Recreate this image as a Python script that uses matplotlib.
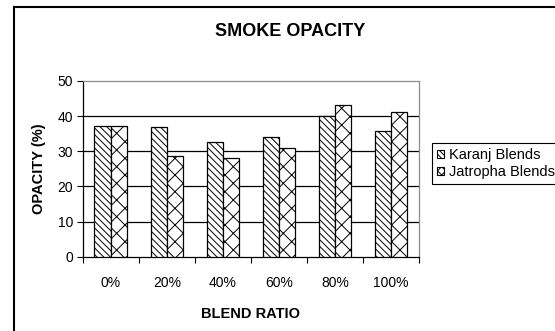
import numpy as np
import matplotlib
matplotlib.use('Agg')
import matplotlib.pyplot as plt
from matplotlib.lines import Line2D
from matplotlib.patches import Patch

plt.rcParams['font.family'] = ['Liberation Sans', 'DejaVu Sans']
plt.rcParams['hatch.linewidth'] = 0.7

# Smoke opacity data
blends = ['0%', '20%', '40%', '60%', '80%', '100%']
karanj = [37.3, 37.0, 32.6, 34.0, 40.0, 35.8]
jatropha = [37.3, 28.7, 28.0, 31.0, 43.2, 41.1]

fig = plt.figure(figsize=(5.55, 3.31), dpi=100)
ax = fig.add_axes([0.149, 0.2245, 0.606, 0.5308])

x = np.arange(len(blends))
w = 0.29
ax.bar(x - w / 2, karanj, w, color='white', edgecolor='black', linewidth=0.9,
       hatch='\\\\\\\\\\', label='Karanj Blends', zorder=3)
ax.bar(x + w / 2, jatropha, w, color='white', edgecolor='black', linewidth=0.9,
       hatch='xx', label='Jatropha Blends', zorder=3)

ax.set_xlim(-0.5, len(blends) - 0.5)
ax.set_ylim(0, 50)
ax.set_yticks([0, 10, 20, 30, 40, 50])
ax.set_xticks(x)
ax.set_xticklabels(blends)
ax.set_xticks(np.arange(len(blends) + 1) - 0.5, minor=True)
ax.tick_params(axis='x', which='major', length=0, pad=14, labelsize=10)
ax.tick_params(axis='x', which='minor', length=4, width=0.8, direction='out')
ax.tick_params(axis='y', length=4, width=0.8, labelsize=10, pad=3)

for yv in [10, 20, 30, 40]:
    ax.axhline(yv, color='black', linewidth=0.9, zorder=1)

for s in ['top', 'right']:
    ax.spines[s].set_color('#8c8c8c')
    ax.spines[s].set_linewidth(0.9)
for s in ['left', 'bottom']:
    ax.spines[s].set_color('black')
    ax.spines[s].set_linewidth(0.9)

ax.set_xlabel('BLEND RATIO', fontsize=10.5, fontweight='bold', labelpad=12)
ax.set_ylabel('OPACITY (%)', fontsize=10.5, fontweight='bold', labelpad=8)

fig.text(0.522, 0.906, 'SMOKE OPACITY', ha='center', va='center',
         fontsize=13, fontweight='bold')

# chart area frame (left and top edges)
fig.add_artist(Line2D([0.025, 0.025], [-0.1, 0.979], transform=fig.transFigure,
                      color='black', linewidth=1.5))
fig.add_artist(Line2D([0.025, 1.1], [0.979, 0.979], transform=fig.transFigure,
                      color='black', linewidth=1.5))

handles = [Patch(facecolor='white', edgecolor='black', hatch='\\\\\\\\\\\\', linewidth=0.8),
           Patch(facecolor='white', edgecolor='black', hatch='xxxx', linewidth=0.8)]
leg = fig.legend(handles, ['Karanj Blends', 'Jatropha Blends'],
                 loc='upper left', bbox_to_anchor=(0.778, 0.568),
                 fontsize=10.5, frameon=True, fancybox=False, framealpha=1,
                 edgecolor='black', handlelength=0.5, handleheight=0.5,
                 handletextpad=0.3, labelspacing=0.2, borderpad=0.35,
                 borderaxespad=0)
leg.get_frame().set_linewidth(0.8)

fig.savefig('out.png', dpi=100)
